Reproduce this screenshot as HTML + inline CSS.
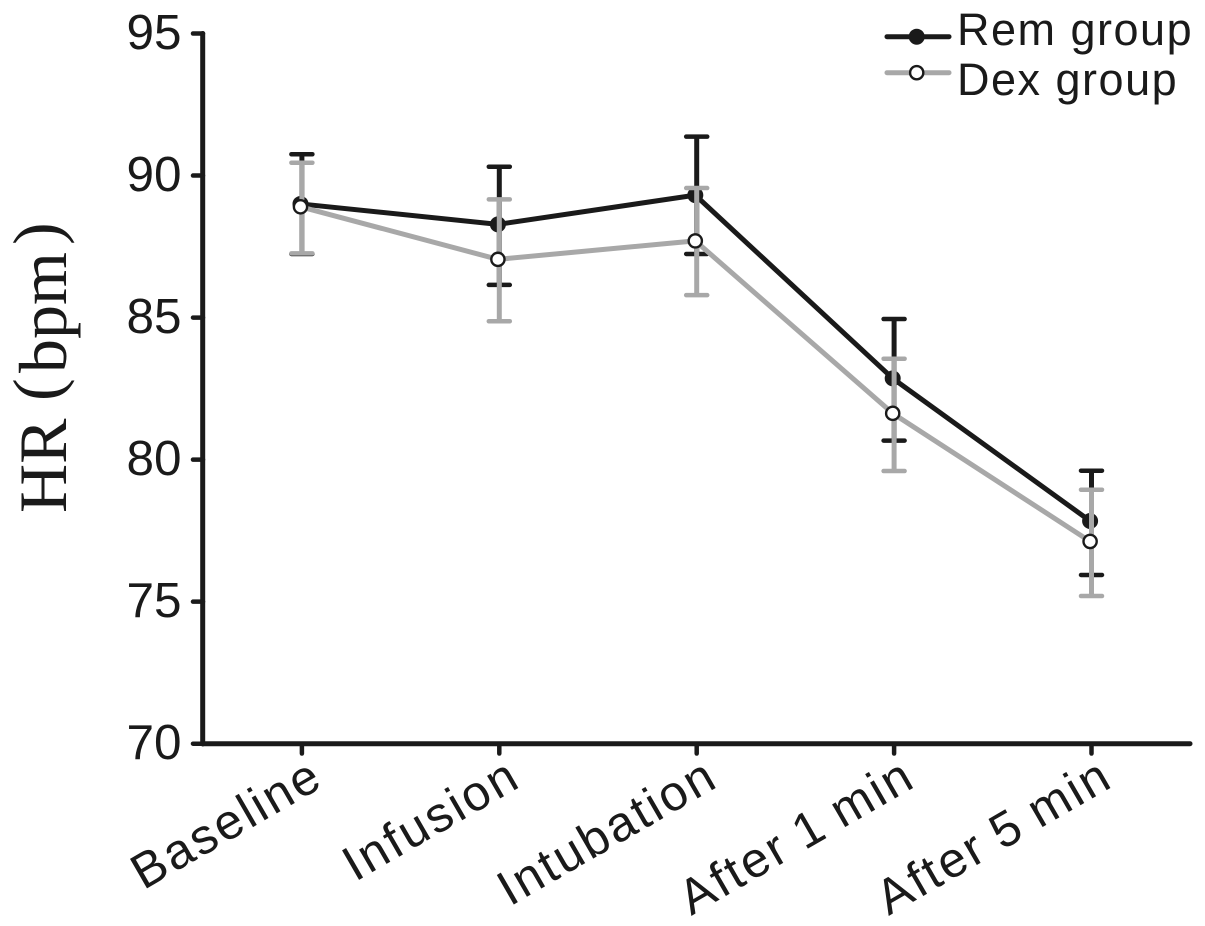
<!DOCTYPE html>
<html>
<head>
<meta charset="utf-8">
<style>
html,body{margin:0;padding:0;background:#fff;}
svg{display:block;}
text{font-family:"Liberation Sans",Arial,sans-serif;fill:#1a1a1a;}
.serif{font-family:"Liberation Serif",serif;font-size:68px;}
</style>
</head>
<body>
<svg id="chart" width="1205" height="926" viewBox="0 0 1205 926" xmlns="http://www.w3.org/2000/svg">
<g id="grid-root"></g>
<g>
<text class="serif" transform="translate(66,513) rotate(-90)">HR</text>
<text class="serif" transform="translate(60,401) rotate(-90)">(</text>
<text class="serif" transform="translate(66,373) rotate(-90)">bpm</text>
<text class="serif" transform="translate(60,245) rotate(-90)">)</text>
</g>
</svg>
<script>
const categories = ["Baseline","Infusion","Intubation","After 1 min","After 5 min"];
const remValues = [89.0,88.28,89.31,82.86,77.84];
const remUpper = [90.75,90.31,91.37,84.95,79.61];
const remLower = [87.24,86.15,87.24,80.67,75.94];
const dexValues = [88.9,87.05,87.7,81.63,77.12];
const dexUpper = [90.45,89.16,89.56,83.55,78.94];
const dexLower = [87.26,84.87,85.79,79.60,75.20];
const yTicks = [70,75,80,85,90,95];
const legendLabels = ["Rem group","Dex group"];

const NS = "http://www.w3.org/2000/svg";
const root = document.getElementById("grid-root");
const BLACK = "#1a1a1a";
const GREY = "#a8a8a8";
const yScale = v => 743.7 - (v - 70) * (743.7 - 33.5) / 25;
const xScale = i => 300.5 + i * 197.4;
const ERR_DX = 1.4;

function mk(tag, attrs, parent){
  const el = document.createElementNS(NS, tag);
  for (const k in attrs) el.setAttribute(k, attrs[k]);
  (parent || root).appendChild(el);
  return el;
}

// axes
const yAxis = mk("line",{x1:202.7,x2:202.7,y1:33.5,y2:744,stroke:BLACK,"stroke-width":5,"stroke-linecap":"round"});


const xAxis = mk("line",{x1:202.7,x2:1190,y1:743.7,y2:743.7,stroke:BLACK,"stroke-width":5,"stroke-linecap":"round"});



yTicks.forEach(t => {
  const y = yScale(t);
  const tick = mk("line",{x1:193,x2:203,y1:y,y2:y,stroke:BLACK,"stroke-width":4.5,"stroke-linecap":"round"});
  
  
  const label = mk("text",{x:181.5,y:y+15.5,"text-anchor":"end","font-size":49.5});
  
  
  label.textContent = t;
});

categories.forEach((c,i) => {
  const x = xScale(i) + ERR_DX;
  const tick = mk("line",{x1:x,x2:x,y1:744,y2:753.5,stroke:BLACK,"stroke-width":4.5,"stroke-linecap":"round"});
  
  
  const label = mk("text",{transform:`translate(${x+24},${785}) rotate(-30)`,"text-anchor":"end","font-size":49.5,"letter-spacing":"2.6","word-spacing":"-3"});
  
  
  label.textContent = c;
});

function drawSeries(values, upper, lower, color, fill, name){
  const g = mk("g",{});
  
  
  values.forEach((v,i) => {
    const x = xScale(i) + ERR_DX;
    const top = yScale(upper[i]);
    const bot = yScale(lower[i]);
    const stem = mk("line",{x1:x,x2:x,y1:top,y2:bot,stroke:color,"stroke-width":5},g);
    
    
    [top,bot].forEach(y => {
      const cap = mk("line",{x1:x-10.5,x2:x+10.5,y1:y,y2:y,stroke:color,"stroke-width":4.5,"stroke-linecap":"round"},g);
      
      
    });
  });
  const pts = values.map((v,i) => xScale(i) + "," + yScale(v)).join(" ");
  const line = mk("polyline",{points:pts,fill:"none",stroke:color,"stroke-width":5},g);
  
  
  values.forEach((v,i) => {
    const hollow = fill === "#fff";
    const p = mk("circle",{cx:xScale(i),cy:yScale(v),r:hollow?6.6:8,fill:fill,stroke:hollow?BLACK:"none","stroke-width":hollow?2.4:0},g);
    
    
  });
}
drawSeries(remValues, remUpper, remLower, BLACK, BLACK, "rem-group");
drawSeries(dexValues, dexUpper, dexLower, GREY, "#fff", "dex-group");

// legend
const legendY = [36.7,72.7];
const legendTextY = [45,95];
legendLabels.forEach((l,i) => {
  const color = i===0 ? BLACK : GREY;
  const g = mk("g",{});
  
  
  const ln = mk("line",{x1:887,x2:949,y1:legendY[i],y2:legendY[i],stroke:color,"stroke-width":5,"stroke-linecap":"round"},g);
  
  
  const c = mk("circle",{cx:916.7,cy:legendY[i],r:i===0?8:6.6,fill:i===0?BLACK:"#fff",stroke:i===0?"none":BLACK,"stroke-width":i===0?0:2.4},g);
  
  
  const t = mk("text",{x:957,y:legendTextY[i],"font-size":45,"letter-spacing":"1.5"},g);
  
  
  t.textContent = l;
});
</script>
</body>
</html>
